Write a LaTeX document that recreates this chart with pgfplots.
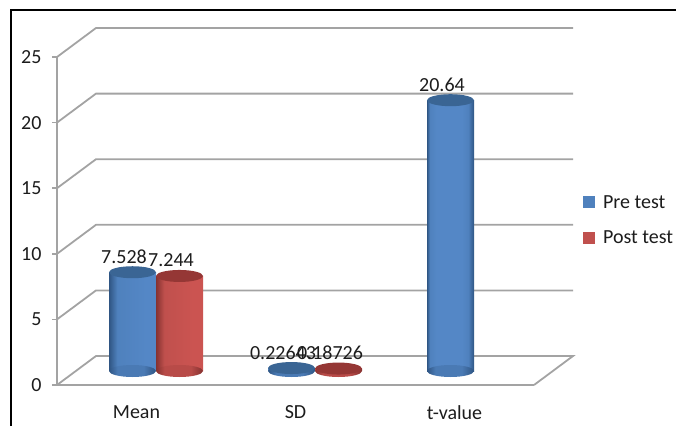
\documentclass[border=0pt]{standalone}
\usepackage{fontspec}
\setmainfont{Carlito}
\usepackage{pgfplots}
\usepackage{pgfplotstable}
\pgfplotsset{compat=1.18}

\definecolor{gridgray}{HTML}{A3A3A3}
\definecolor{labelink}{HTML}{1C1C1C}
\definecolor{blueedge}{HTML}{2F5583}
\definecolor{bluemid}{HTML}{5487C6}
\definecolor{bluetop}{HTML}{3A6594}
\definecolor{blueflat}{HTML}{4F81BD}
\definecolor{bluebase}{HTML}{4A7AB4}
\definecolor{rededge}{HTML}{853230}
\definecolor{redmid}{HTML}{CB5451}
\definecolor{redtop}{HTML}{953735}
\definecolor{redflat}{HTML}{C0504D}
\definecolor{redbase}{HTML}{B84B48}

% Cylinder walls: dark at both sides, lightest across the middle
\pgfdeclarehorizontalshading{cylblue}{100bp}{color(0bp)=(blueedge); color(25bp)=(blueedge); color(27bp)=(blueflat); color(34bp)=(bluemid); color(58bp)=(bluemid); color(67bp)=(blueflat); color(75bp)=(blueedge); color(100bp)=(blueedge)}
\pgfdeclarehorizontalshading{cylred}{100bp}{color(0bp)=(rededge); color(25bp)=(rededge); color(27bp)=(redflat); color(34bp)=(redmid); color(58bp)=(redmid); color(67bp)=(redflat); color(75bp)=(rededge); color(100bp)=(rededge)}
% The tall cylinder needs its light band carried further across
\pgfdeclarehorizontalshading{cyltall}{100bp}{color(0bp)=(blueedge); color(25bp)=(blueedge); color(28bp)=(blueflat); color(35bp)=(bluemid); color(62bp)=(bluemid); color(69bp)=(blueflat); color(75bp)=(blueedge); color(100bp)=(blueedge)}
% Lower rims of the cylinders
\pgfdeclarehorizontalshading{rimblue}{100bp}{color(0bp)=(blueedge); color(25bp)=(blueedge); color(34bp)=(bluebase); color(62bp)=(bluebase); color(75bp)=(blueedge); color(100bp)=(blueedge)}
\pgfdeclarehorizontalshading{rimred}{100bp}{color(0bp)=(rededge); color(25bp)=(rededge); color(34bp)=(redbase); color(62bp)=(redbase); color(75bp)=(rededge); color(100bp)=(rededge)}

% Elliptical ends of the cylinders, placed in canvas units around the data point
\pgfdeclareplotmark{captopblue}{\fill[draw=none,bluetop,rotate=5] (canvas cs:x=0pt,y=0pt) ellipse (23.5pt and 6pt);}
\pgfdeclareplotmark{captopred}{\fill[draw=none,redtop,rotate=5] (canvas cs:x=0pt,y=0pt) ellipse (23.5pt and 6pt);}
\pgfdeclareplotmark{capbaseblue}{\shade[draw=none,shading=rimblue,rotate=5] (canvas cs:x=0pt,y=0pt) ellipse (23.5pt and 6pt);}
\pgfdeclareplotmark{capbasered}{\shade[draw=none,shading=rimred,rotate=5] (canvas cs:x=0pt,y=0pt) ellipse (23.5pt and 6pt);}

\pgfplotstableread{
pos value label
0 7.528 7.528
1 0.22643 0.22643
2 20.64 20.64
}\pretest
\pgfplotstableread{
pos value label
0 7.244 7.244
1 0.18726 0.18726
}\posttest

\newcommand{\chartfont}{\fontsize{20}{24}\selectfont}

\begin{document}
\begin{tikzpicture}[x=1pt,y=1pt]
\useasboundingbox (0,0) rectangle (676,426);

% Frame of the pasted figure
\draw[black,line width=2pt] (11,0) -- (11,416) -- (676,416);

% Front plane: axes, tick labels and the receding grid of the walls
\begin{axis}[
  at={(57pt,41pt)}, anchor=south west,
  scale only axis, width=477pt, height=328pt,
  xmin=-0.5, xmax=2.5, ymin=0, ymax=25,
  clip=false,
  axis x line=bottom, axis y line=left,
  axis line style={-,gridgray,line width=1.8pt},
  tick align=outside,
  ytick={0,5,10,15,20,25},
  xtick={0,1,2},
  xticklabels={Mean,SD,t-value},
  xtick style={draw=none},
  ytick style={gridgray,line width=1.8pt},
  major tick length=5pt,
  extra x ticks={-0.5,0.5,1.5,2.5},
  extra x tick labels={},
  extra x tick style={tick style={draw=gridgray,line width=1.8pt},major tick length=7pt},
  tick label style={font=\chartfont,text=labelink},
  xticklabel style={yshift=-12pt},
  yticklabel style={xshift=-7pt},
  /pgf/number format/assume math mode=true,
]
\addplot[gridgray,line width=1.8pt] coordinates {(-0.5,0) (-0.2547,2.21) (2.7453,2.21) (2.5,0)};
\addplot[gridgray,line width=1.8pt] coordinates {(-0.5,5) (-0.2547,7.21) (2.7453,7.21)};
\addplot[gridgray,line width=1.8pt] coordinates {(-0.5,10) (-0.2547,12.21) (2.7453,12.21)};
\addplot[gridgray,line width=1.8pt] coordinates {(-0.5,15) (-0.2547,17.21) (2.7453,17.21)};
\addplot[gridgray,line width=1.8pt] coordinates {(-0.5,20) (-0.2547,22.21) (2.7453,22.21)};
\addplot[gridgray,line width=1.8pt] coordinates {(-0.5,25) (-0.2547,27.21) (2.7453,27.21)};
\end{axis}

% Mid-depth plane carrying the cylinders, value labels and legend
\begin{axis}[
  at={(76.5pt,55pt)}, anchor=south west,
  scale only axis, width=477pt, height=328pt,
  xmin=-0.5, xmax=2.5, ymin=0, ymax=25,
  clip=false, hide axis,
  legend image code/.code={\fill[draw=none,#1] (canvas cs:x=0pt,y=-6pt) rectangle (canvas cs:x=12pt,y=6pt);},
  legend style={
    draw=none, fill=none, inner sep=0pt, outer sep=0pt,
    at={(1.062,0.46)}, anchor=west,
    font=\chartfont, text=labelink,
    row sep=17pt,
    /tikz/every odd column/.append style={column sep=6pt},
  },
  legend cell align=left,
  every node near coord/.append style={font=\chartfont,text=labelink,anchor=center,xshift=-8.5pt,yshift=15.5pt},
]
% Pre test
\addplot[only marks,mark=capbaseblue,forget plot,x filter/.expression={x-0.1478}] table[x=pos,y expr=0] {\pretest};
\addplot[ybar,bar width=47pt,bar shift=-23.5pt,draw=none,shade,shading=cylblue,forget plot,restrict x to domain=0:1] table[x=pos,y=value] {\pretest};
\addplot[ybar,bar width=47pt,bar shift=-23.5pt,draw=none,shade,shading=cyltall,forget plot,restrict x to domain=2:2] table[x=pos,y=value] {\pretest};
\addplot[only marks,mark=captopblue,forget plot,x filter/.expression={x-0.1478},
  point meta=explicit symbolic,nodes near coords] table[x=pos,y=value,meta=label] {\pretest};
% Post test
\addplot[only marks,mark=capbasered,forget plot,x filter/.expression={x+0.1478}] table[x=pos,y expr=0] {\posttest};
\addplot[ybar,bar width=47pt,bar shift=23.5pt,draw=none,shade,shading=cylred,forget plot] table[x=pos,y=value] {\posttest};
\addplot[only marks,mark=captopred,forget plot,x filter/.expression={x+0.1478},
  point meta=explicit symbolic,nodes near coords] table[x=pos,y=value,meta=label] {\posttest};
\addlegendimage{fill=blueflat}
\addlegendentry{Pre test}
\addlegendimage{fill=redflat}
\addlegendentry{Post test}
\end{axis}
\end{tikzpicture}
\end{document}
